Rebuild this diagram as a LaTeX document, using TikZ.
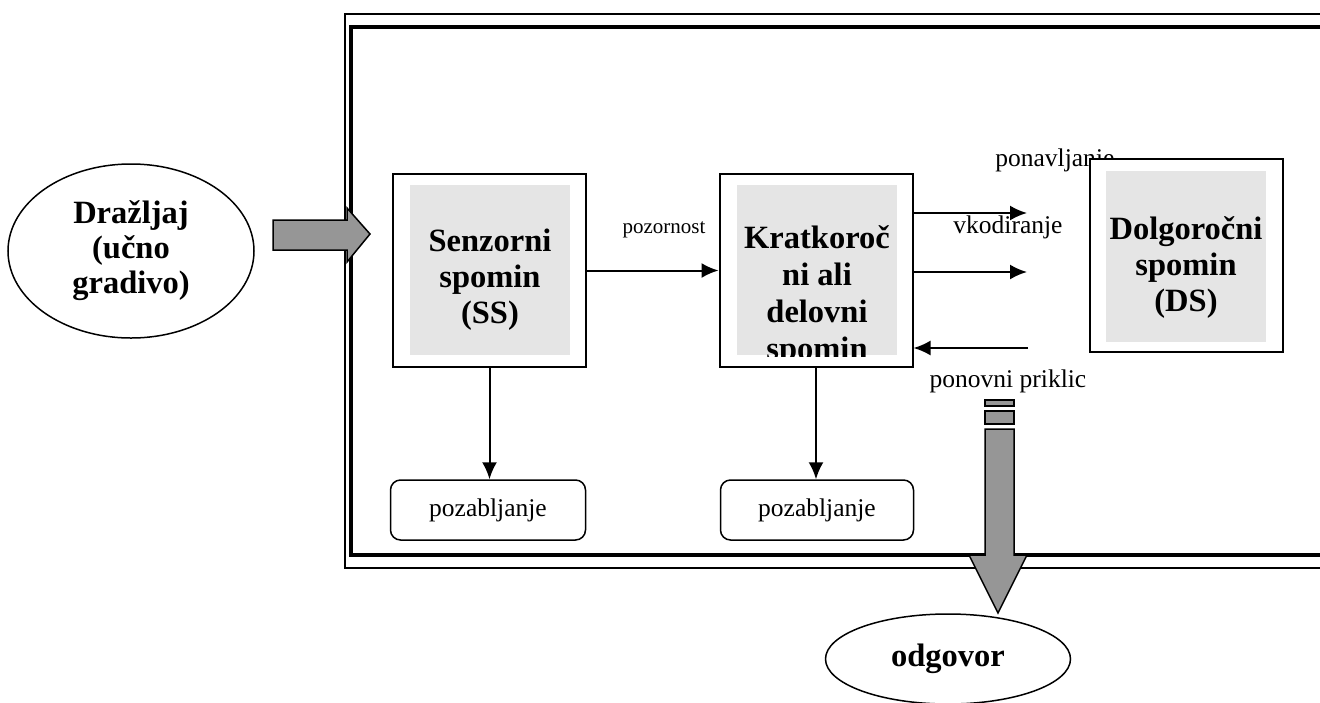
\documentclass[tikz,border=0pt]{standalone}
\usepackage{fontspec}
\setmainfont{Liberation Serif}
\usetikzlibrary{shapes.geometric,positioning,arrows.meta}
\definecolor{boxgray}{RGB}{229,229,229}
\definecolor{arrowgray}{RGB}{150,150,150}
\tikzset{
    membox/.style={
        draw,line width=2pt,fill=white,minimum width=193pt,minimum height=193pt
    },
    memfill/.style={
        fill=boxgray,minimum width=160pt,minimum height=170pt
    },
    memtext/.style={
        align=center,font=\fontsize{32.5}{36}\selectfont\bfseries
    },
    forgetbox/.style={
        draw,line width=1.5pt,rounded corners=10pt,minimum width=195pt,minimum height=60pt,font=\fontsize{25.5}{30}\selectfont
    },
    stimnode/.style={
        ellipse,draw,line width=1.5pt,align=center,font=\fontsize{32.5}{35}\selectfont\bfseries
    },
    labeltext/.style={
        font=\fontsize{25.5}{30}\selectfont
    },
    blockarrow/.style={
        draw,line width=1.5pt,fill=arrowgray,line join=miter
    }
}

\begin{document}
\begin{tikzpicture}[x=1pt,y=-1pt,>={Latex[length=17pt,width=15pt]},line width=2pt]
\useasboundingbox (0,0) rectangle (1320,702);
% frame
\draw[line width=1.5pt] (1320,14) -- (345,14) -- (345,568) -- (1320,568);
\draw[line width=4pt] (1320,27) -- (351,27) -- (351,555) -- (1320,555);

% stimulus
\node[stimnode,minimum width=246pt,minimum height=174pt] (dr) at (131,251) {Dražljaj\\(učno\\gradivo)};
\draw[blockarrow] (273,220) -- (347,220) -- (347,208) -- (370,234) -- (347,262) -- (347,250) -- (273,250) -- cycle;

\node[labeltext,anchor=base west] (ponav) at (991,166) {ponavljanje};

% memory stores
\node[membox] (ss) at (489.5,270.5) {};
\node[memfill] (ssg) at (490,270) {};
\node[memtext] (sst) at (490,280) {Senzorni\\spomin\\(SS)};

\node[membox] (ks) at (816,270.5) {};
\node[memfill] (ksg) at (817,270) {};
\begin{scope}
\clip (ksg.north west) rectangle (ksg.south east);
\node[memtext,font=\fontsize{32.5}{37}\selectfont\bfseries] (kst) at (817,296) {Kratkoroč\\ni ali\\delovni\\spomin};
\end{scope}

\node[membox] (ds) at (1186,255.5) {};
\node[memfill,minimum height=171pt] (dsg) at (1186,256.5) {};
\node[memtext] (dst) at (1186,267) {Dolgoročni\\spomin\\(DS)};

\node[forgetbox] (poz1) at (488,510) {pozabljanje};
\node[forgetbox,minimum width=193pt] (poz2) at (817,510) {pozabljanje};

% connectors
\draw[->] (ss.east) -- (ks.west);
\node[labeltext,font=\fontsize{21}{25}\selectfont,anchor=base] (poz) at (664,233) {pozornost};
\draw[->] (ss.south) -- (ss.south |- poz1.north);
\draw[->] (ks.south) -- (ks.south |- poz2.north);

\coordinate (enc1) at (1027,213);
\coordinate (enc2) at (1027,272);
\coordinate (ret) at (1028,348);
\draw[->] (ks.east |- enc1) -- (enc1);
\draw[->] (ks.east |- enc2) -- (enc2);
\draw[->] (ret) -- (ks.east |- ret);
\node[labeltext,anchor=base] (vkod) at (1008,233) {vkodiranje};
\node[labeltext,anchor=base] (prik) at (1008,387) {ponovni priklic};

% response
\draw[blockarrow] (985,400) rectangle (1014,406);
\draw[blockarrow] (985,411) rectangle (1014,424);
\draw[blockarrow] (985,429) -- (1014,429) -- (1014,555) -- (1027,555) -- (998,613) -- (969,555) -- (985,555) -- cycle;
\node[stimnode,minimum width=245pt,minimum height=90pt] (odg) at (948,659) {odgovor};
\end{tikzpicture}
\end{document}
